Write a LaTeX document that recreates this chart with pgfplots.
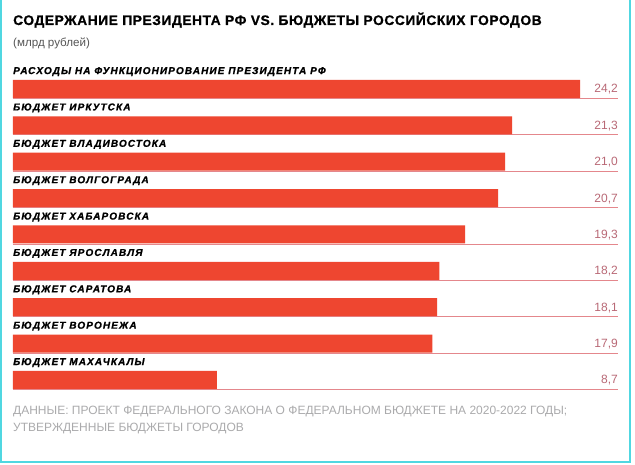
\documentclass[border=0pt]{standalone}
\usepackage{fontspec}
\setmainfont{Liberation Sans}
\newfontfamily\labfont[LetterSpace=11,FakeBold=1]{Liberation Sans}
\newfontfamily\titlefont[LetterSpace=4,FakeBold=0.8]{Liberation Sans}
\usepackage{pgfplots}
\pgfplotsset{compat=1.18}
\definecolor{barred}{RGB}{238,70,48}
\definecolor{valcol}{RGB}{185,105,118}
\definecolor{gridpink}{RGB}{228,135,140}
\definecolor{footgray}{RGB}{170,170,172}
\definecolor{subgray}{RGB}{85,85,85}
\definecolor{framecyan}{RGB}{80,215,225}
\tikzset{
  lab/.style={anchor=base west,inner sep=0pt,font=\labfont\bfseries\itshape\fontsize{10}{12}\selectfont},
  val/.style={anchor=base east,inner sep=0pt,font=\fontsize{12}{14}\selectfont,text=valcol},
}
\begin{document}
\begin{tikzpicture}[x=1pt,y=1pt]
\useasboundingbox (0,0) rectangle (635,465);
\fill[white] (0,0) rectangle (635,465);
\draw[framecyan,line width=2pt] (1,465) -- (1,3) -- (630,3) -- (630,465);
\node[anchor=base west,inner sep=0pt,font=\titlefont\bfseries\fontsize{13.8}{16}\selectfont,text=black] at (13,440) {СОДЕРЖАНИЕ ПРЕЗИДЕНТА РФ VS. БЮДЖЕТЫ РОССИЙСКИХ ГОРОДОВ};
\node[anchor=base west,inner sep=0pt,font=\fontsize{11.6}{13}\selectfont,text=subgray] at (13,418) {(млрд рублей)};
\node[anchor=base west,inner sep=0pt,font=\fontsize{12}{14}\selectfont,text=footgray] at (13,50) {ДАННЫЕ: ПРОЕКТ ФЕДЕРАЛЬНОГО ЗАКОНА О ФЕДЕРАЛЬНОМ БЮДЖЕТЕ НА 2020-2022 ГОДЫ;};
\node[anchor=base west,inner sep=0pt,font=\fontsize{12}{14}\selectfont,text=footgray] at (13,33) {УТВЕРЖДЕННЫЕ БЮДЖЕТЫ ГОРОДОВ};
\begin{axis}[
  at={(13pt,412.4pt)}, anchor=north west,
  scale only axis, width=605pt, height=349.2pt,
  xmin=0, xmax=25.82, ymin=-1, ymax=8.6, y dir=reverse,
  axis line style={draw=none}, tick style={draw=none},
  xtick=\empty,
  ytick={0.26,1.26,2.26,3.26,4.26,5.26,6.26,7.26,8.26},
  yticklabels={},
  ymajorgrids, grid style={gridpink,line width=0.8pt},
  clip=false,
]
\addplot[xbar, bar width=18pt, bar shift=0pt, fill=barred, draw=none] coordinates {
(24.2,0) (21.3,1) (21.0,2) (20.7,3) (19.3,4) (18.2,5) (18.1,6) (17.9,7) (8.7,8)};
\node[lab] at (axis cs:0,-0.41) {РАСХОДЫ НА ФУНКЦИОНИРОВАНИЕ ПРЕЗИДЕНТА РФ};
\node[lab] at (axis cs:0,0.59) {БЮДЖЕТ ИРКУТСКА};
\node[lab] at (axis cs:0,1.59) {БЮДЖЕТ ВЛАДИВОСТОКА};
\node[lab] at (axis cs:0,2.59) {БЮДЖЕТ ВОЛГОГРАДА};
\node[lab] at (axis cs:0,3.59) {БЮДЖЕТ ХАБАРОВСКА};
\node[lab] at (axis cs:0,4.59) {БЮДЖЕТ ЯРОСЛАВЛЯ};
\node[lab] at (axis cs:0,5.59) {БЮДЖЕТ САРАТОВА};
\node[lab] at (axis cs:0,6.59) {БЮДЖЕТ ВОРОНЕЖА};
\node[lab] at (axis cs:0,7.59) {БЮДЖЕТ МАХАЧКАЛЫ};
\node[val] at (axis cs:25.82,0.11) {24,2};
\node[val] at (axis cs:25.82,1.11) {21,3};
\node[val] at (axis cs:25.82,2.11) {21,0};
\node[val] at (axis cs:25.82,3.11) {20,7};
\node[val] at (axis cs:25.82,4.11) {19,3};
\node[val] at (axis cs:25.82,5.11) {18,2};
\node[val] at (axis cs:25.82,6.11) {18,1};
\node[val] at (axis cs:25.82,7.11) {17,9};
\node[val] at (axis cs:25.82,8.11) {8,7};
\end{axis}
\end{tikzpicture}
\end{document}
